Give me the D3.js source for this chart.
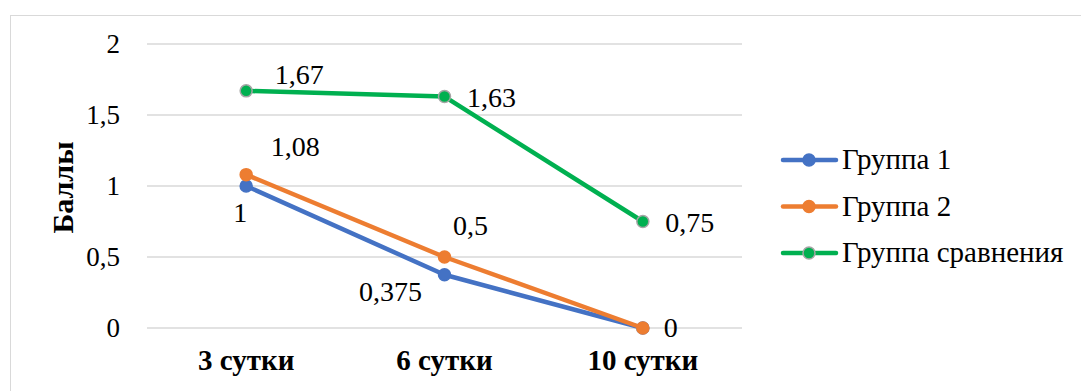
<!DOCTYPE html>
<html>
<head>
<meta charset="utf-8">
<script src="https://cdn.jsdelivr.net/npm/d3@7"></script>
</head>
<body style="margin:0">
<script>
// Days after treatment
const categories = ["3 сутки", "6 сутки", "10 сутки"];
// Scores per group
const group1 = [1, 0.375, 0];
const group2 = [1.08, 0.5, 0];
const groupCmp = [1.67, 1.63, 0.75];
const seriesNames = ["Группа 1", "Группа 2", "Группа сравнения"];
const yTicks = [0, 0.5, 1, 1.5, 2];
const yTitle = "Баллы";

const FONT = "Liberation Serif";
const W = 1081, H = 391;
const margin = { left: 147, right: W - 742, top: 44, bottom: H - 328 };

const series = [
  { name: seriesNames[0], values: group1, color: "#4472C4", markerStroke: "#4472C4",
    // label offsets (dx, dy) from each point, null = hidden
    labels: [[-6, 27], [-54, 17], null] },
  { name: seriesNames[1], values: group2, color: "#ED7D31", markerStroke: "#ED7D31",
    labels: [[49, -28], [26, -31], [28, 0]] },
  { name: seriesNames[2], values: groupCmp, color: "#00B050", markerStroke: "#A5A5A5",
    labels: [[53, -16], [47, 1], [47, 1]] }
];

const fmt = v => String(v).replace(".", ",");

const svg = d3.select("body").append("svg")
  .attr("width", W).attr("height", H)
  .style("display", "block");

// helper: every text gets the serif face explicitly
const txt = (sel, size, bold) => sel
  .style("font-family", FONT)
  .style("font-size", size + "px")
  .style("font-weight", bold ? "bold" : "normal")
  .attr("fill", "#000");

// chart frame
svg.append("rect")
  .attr("x", 10.5).attr("y", 15.5)
  .attr("width", W + 10).attr("height", H + 10)
  .attr("fill", "none").attr("stroke", "#D9D9D9").attr("stroke-width", 1);

const x = d3.scaleBand().domain(categories)
  .range([margin.left, W - margin.right]).padding(0);
const y = d3.scaleLinear().domain([0, 2]).range([H - margin.bottom, margin.top]);

// gridlines
svg.append("g").selectAll("line").data(yTicks).join("line")
  .attr("x1", margin.left).attr("x2", W - margin.right)
  .attr("y1", d => y(d)).attr("y2", d => y(d))
  .attr("stroke", "#D9D9D9").attr("stroke-width", 1.5);

// y axis labels
const yAxis = d3.axisLeft(y).tickValues(yTicks).tickFormat(fmt).tickSize(0).tickPadding(0);
const yg = svg.append("g").attr("transform", `translate(${margin.left - 27},0)`).call(yAxis);
yg.attr("font-family", null).attr("font-size", null);
yg.select(".domain").remove();
txt(yg.selectAll("text").attr("dy", "0.33em"), 27, false);

// x axis labels
const xAxis = d3.axisBottom(x).tickSize(0).tickPadding(0);
const xg = svg.append("g").attr("transform", `translate(0,${y(0) + 42})`).call(xAxis);
xg.attr("font-family", null).attr("font-size", null);
xg.select(".domain").remove();
txt(xg.selectAll("text").attr("dy", "0"), 29, true);

// y axis title
txt(svg.append("text")
  .attr("transform", `translate(73,${(y(0) + y(2)) / 2 + 1.5}) rotate(-90)`)
  .attr("text-anchor", "middle")
  .text(yTitle), 30, true);

const cx = c => x(c) + x.bandwidth() / 2;
const line = d3.line().x((d, i) => cx(categories[i])).y(d => y(d));

series.forEach(s => {
  const g = svg.append("g");
  g.append("path").datum(s.values)
    .attr("d", line).attr("fill", "none")
    .attr("stroke", s.color).attr("stroke-width", 4.5)
    .attr("stroke-linejoin", "round").attr("stroke-linecap", "round");
  g.selectAll("circle").data(s.values).join("circle")
    .attr("cx", (d, i) => cx(categories[i])).attr("cy", d => y(d))
    .attr("r", 6).attr("fill", s.color)
    .attr("stroke", s.markerStroke).attr("stroke-width", 1.5);
});

// data labels
series.forEach(s => {
  s.values.forEach((v, i) => {
    const off = s.labels[i];
    if (!off) return;
    txt(svg.append("text")
      .attr("x", cx(categories[i]) + off[0])
      .attr("y", y(v) + off[1])
      .attr("dy", "0.33em")
      .attr("text-anchor", "middle")
      .text(fmt(v)), 28, false);
  });
});

// legend
const lg = svg.append("g");
series.forEach((s, i) => {
  const ly = 160 + i * 46.5;
  lg.append("line").attr("x1", 783).attr("x2", 836).attr("y1", ly).attr("y2", ly)
    .attr("stroke", s.color).attr("stroke-width", 4.5).attr("stroke-linecap", "round");
  lg.append("circle").attr("cx", 809).attr("cy", ly).attr("r", 6)
    .attr("fill", s.color).attr("stroke", s.markerStroke).attr("stroke-width", 1.5);
  txt(lg.append("text").attr("x", 842).attr("y", ly).attr("dy", "0.32em")
    .text(s.name), 29, false);
});
</script>
</body>
</html>
